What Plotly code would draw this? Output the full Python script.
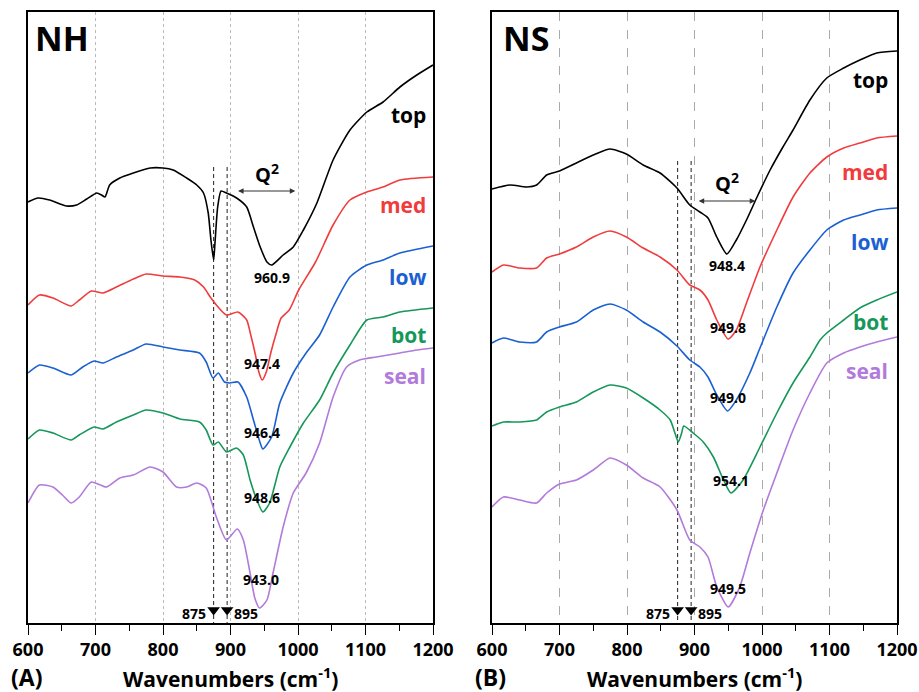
import plotly.graph_objects as go

# ---------------- data (y = offset depth, axis reversed) -------------
series_names = ["top", "med", "low", "bot", "seal"]
series_colors = ["#000000", "#f03c3c", "#1a60d2", "#16975a", "#b27ada"]

# Panel A (NH)
nh_top_x = [600,615,632,657,672,687,702,709,714,721,736,756,781,800,815,835,850,860,867,871,875,877,881,886,894,909,924,934,944,954,961,978,993,1008,1028,1052,1077,1102,1126,1151,1176,1200]
nh_top_y = [202,198,200,206,205,199,193,195,197,185,178,173,168,168,170,178,185,193,213,240,260,243,207,191,193,198,207,227,247,262,265,255,247,230,203,160,130,112,102,87,75,65]
nh_med_x = [600,617,637,664,676,694,711,731,756,775,800,825,847,860,870,879,894,911,924,930,937,942,947,953,960,967,975,987,1001,1026,1052,1077,1102,1126,1151,1200]
nh_med_y = [305,295,298,306,300,291,293,287,279,274,276,277,280,287,297,305,315,312,320,335,355,372,380,372,352,335,318,310,290,262,225,200,192,187,180,177]
nh_low_x = [600,617,637,664,681,698,711,731,756,775,800,825,854,864,874,882,891,899,911,924,934,944,948,961,973,993,1012,1032,1052,1077,1102,1126,1151,1200]
nh_low_y = [373,365,368,375,367,361,363,357,350,344,347,350,353,362,378,373,382,383,382,397,420,443,449,437,403,373,353,335,307,277,265,260,253,246]
nh_bot_x = [600,617,637,664,676,698,711,731,756,775,800,825,854,864,874,882,894,909,919,929,939,948,958,973,988,1008,1032,1052,1077,1102,1126,1151,1200]
nh_bot_y = [439,430,433,440,435,427,429,422,415,410,413,419,422,430,445,442,452,448,455,480,500,512,503,467,447,423,400,373,345,320,317,312,308]
nh_seal_x = [600,617,637,651,664,676,694,716,736,756,781,800,820,835,850,864,879,894,910,919,929,936,943,954,963,978,993,1012,1032,1052,1072,1091,1116,1151,1176,1200]
nh_seal_y = [503,485,487,495,503,497,482,487,478,475,467,472,487,487,483,488,517,540,529,540,573,598,608,600,573,527,493,473,443,397,367,360,357,353,350,348]

# Panel B (NS)
ns_top_x = [600,627,651,666,681,700,725,750,775,799,824,849,874,893,908,920,933,948,962,977,992,1012,1031,1046,1071,1096,1121,1145,1170,1200]
ns_top_y = [189,185,187,185,175,171,163,155,149,154,165,173,188,205,212,218,237,254,240,220,198,170,147,130,100,78,68,60,53,51]
ns_med_x = [600,617,641,666,681,700,725,750,775,799,824,849,874,893,908,920,933,950,962,977,997,1022,1046,1071,1096,1121,1145,1170,1200]
ns_med_y = [272,265,268,268,258,254,247,237,231,237,248,257,270,285,290,300,320,339,330,303,267,230,197,173,157,148,143,138,136]
ns_low_x = [600,617,641,666,681,700,725,750,775,799,824,849,874,893,908,920,933,949,962,982,997,1022,1046,1071,1096,1121,1145,1170,1200]
ns_low_y = [343,338,342,342,332,327,322,310,304,310,322,332,346,360,367,377,395,411,400,373,348,307,273,250,230,220,215,210,208]
ns_bot_x = [600,617,641,666,681,700,725,750,775,799,824,849,864,871,876,881,884,898,913,928,943,954,972,997,1022,1046,1071,1086,1096,1121,1145,1170,1200]
ns_bot_y = [426,422,422,420,412,407,402,392,385,388,398,410,420,433,442,433,426,433,442,457,480,493,480,447,413,383,357,340,333,320,308,300,292]
ns_seal_x = [600,617,641,666,681,700,725,750,775,799,824,849,874,893,908,920,933,950,967,982,1002,1022,1046,1071,1096,1121,1145,1170,1200]
ns_seal_y = [507,497,500,503,493,484,480,470,458,465,478,487,510,540,547,557,587,607,587,553,510,473,430,393,363,353,347,342,337]

# peak labels (wavenumber, text, y)
nh_peak_text = ["960.9", "947.4", "946.4", "948.6", "943.0"]
nh_peak_x = [961, 947, 947, 947, 945]
nh_peak_y = [277, 363, 432, 497, 579]
ns_peak_text = ["948.4", "949.8", "949.0", "954.1", "949.5"]
ns_peak_x = [948, 950, 949, 954, 950]
ns_peak_y = [265, 327, 397, 480, 588]

# series label positions
nh_label_y = [115, 205, 277, 335, 376]
ns_label_y = [80, 172, 242, 322, 371]

marker_lines = [875, 895]
tick_vals = [600, 700, 800, 900, 1000, 1100, 1200]

FONT = "Open Sans"
Y_RANGE = [623, 12]

fig = go.Figure()

panels = [
    dict(xa="x", ya="y", name="NH", tag="(A)",
         xs=[nh_top_x, nh_med_x, nh_low_x, nh_bot_x, nh_seal_x],
         ys=[nh_top_y, nh_med_y, nh_low_y, nh_bot_y, nh_seal_y],
         px=nh_peak_x, py=nh_peak_y, pt=nh_peak_text, ly=nh_label_y,
         vline_top=167, q_arrow=(909, 996, 191), q_text=(954, 173), lab_x=1193),
    dict(xa="x2", ya="y2", name="NS", tag="(B)",
         xs=[ns_top_x, ns_med_x, ns_low_x, ns_bot_x, ns_seal_x],
         ys=[ns_top_y, ns_med_y, ns_low_y, ns_bot_y, ns_seal_y],
         px=ns_peak_x, py=ns_peak_y, pt=ns_peak_text, ly=ns_label_y,
         vline_top=161, q_arrow=(904, 990, 201), q_text=(948, 182), lab_x=1190),
]

annotations = []
for p in panels:
    # dashed guide lines
    for v in marker_lines:
        fig.add_trace(go.Scatter(x=[v, v], y=[p["vline_top"], 623], mode="lines",
                                 line=dict(color="#222", width=1, dash="4px,3px"),
                                 xaxis=p["xa"], yaxis=p["ya"], showlegend=False, hoverinfo="skip"))
    for xs, ys, c in zip(p["xs"], p["ys"], series_colors):
        fig.add_trace(go.Scatter(x=xs, y=ys, mode="lines", line=dict(color=c, width=1.6, shape="spline", smoothing=0.6),
                                 xaxis=p["xa"], yaxis=p["ya"], showlegend=False))
    # triangles
    fig.add_trace(go.Scatter(x=marker_lines, y=[610, 610], mode="markers",
                             marker=dict(symbol="triangle-down", size=11, color="black"),
                             xaxis=p["xa"], yaxis=p["ya"], showlegend=False))
    annotations.append(dict(x=866, y=613, xref=p["xa"], yref=p["ya"], text="<b>875</b>", showarrow=False,
                            xanchor="right", font=dict(family=FONT, size=14, color="black")))
    annotations.append(dict(x=902, y=613, xref=p["xa"], yref=p["ya"], text="<b>895</b>", showarrow=False,
                            xanchor="left", font=dict(family=FONT, size=14, color="black")))
    for x, y, t in zip(p["px"], p["py"], p["pt"]):
        annotations.append(dict(x=x, y=y, xref=p["xa"], yref=p["ya"], text="<b>%s</b>" % t,
                                showarrow=False, font=dict(family=FONT, size=14, color="black")))
    for nm, c, y in zip(series_names, series_colors, p["ly"]):
        annotations.append(dict(x=p["lab_x"], y=y, xref=p["xa"], yref=p["ya"], text="<b>%s</b>" % nm,
                                showarrow=False, xanchor="right",
                                font=dict(family=FONT, size=21, color=c)))
    a0, a1, ay = p["q_arrow"]
    annotations.append(dict(x=a1, y=ay, ax=a0, ay=ay, xref=p["xa"], yref=p["ya"],
                            axref=p["xa"], ayref=p["ya"], text="", showarrow=True,
                            arrowhead=2, startarrowhead=2, arrowside="end+start",
                            arrowsize=1, arrowwidth=1.1, arrowcolor="#333"))
    qx, qy = p["q_text"]
    annotations.append(dict(x=qx, y=qy, xref=p["xa"], yref=p["ya"], text="<b>Q<sup>2</sup></b>",
                            showarrow=False, font=dict(family=FONT, size=20, color="black")))
    annotations.append(dict(x=650, y=38, xref=p["xa"], yref=p["ya"], text="<b>%s</b>" % p["name"],
                            showarrow=False, font=dict(family=FONT, size=34, color="black")))

# bottom labels (paper)
YB = 1 - 677/692
annotations += [
    dict(x=26/919, y=YB, xref="paper", yref="paper", text="<b>(A)</b>", showarrow=False,
         xanchor="center", yanchor="middle", font=dict(family=FONT, size=23, color="black")),
    dict(x=230/919, y=YB, xref="paper", yref="paper", text="<b>Wavenumbers (cm<sup>-1</sup>)</b>",
         xanchor="center", yanchor="middle", showarrow=False, font=dict(family=FONT, size=21, color="black")),
    dict(x=490/919, y=YB, xref="paper", yref="paper", text="<b>(B)</b>", showarrow=False,
         xanchor="center", yanchor="middle", font=dict(family=FONT, size=23, color="black")),
    dict(x=694/919, y=YB, xref="paper", yref="paper", text="<b>Wavenumbers (cm<sup>-1</sup>)</b>",
         xanchor="center", yanchor="middle", showarrow=False, font=dict(family=FONT, size=21, color="black")),
]

def xaxis(domain, griddash, gridcolor):
    return dict(domain=domain, range=[600, 1200], tickvals=tick_vals, ticks="outside", ticklen=10,
                tickwidth=1.3, tickcolor="black", showline=True, mirror=True, linecolor="black",
                linewidth=1.5, showgrid=True, gridcolor=gridcolor, griddash=griddash, gridwidth=1,
                zeroline=False, automargin=False,
                tickfont=dict(family=FONT, size=18, color="black", weight="bold"),
                minor=dict(dtick=50, tick0=600, ticks="outside", ticklen=6, tickcolor="black",
                           tickwidth=1.3, showgrid=False))

def yaxis(anchor):
    return dict(domain=[1-623/692, 1-12/692], range=Y_RANGE, showticklabels=False, ticks="",
                showgrid=False, zeroline=False, showline=True, mirror=True, linecolor="black",
                linewidth=1.5, anchor=anchor, automargin=False)

fig.update_layout(
    width=919, height=692, margin=dict(l=0, r=0, t=0, b=0, autoexpand=False),
    plot_bgcolor="white", paper_bgcolor="white",
    xaxis=dict(**xaxis([28/919, 433/919], "dot", "#bbbbbb"), anchor="y"),
    yaxis=yaxis("x"),
    xaxis2=dict(**xaxis([492/919, 897/919], "dash", "#aaaaaa"), anchor="y2"),
    yaxis2=yaxis("x2"),
    annotations=annotations,
    showlegend=False,
)

fig.write_html("out.html")
